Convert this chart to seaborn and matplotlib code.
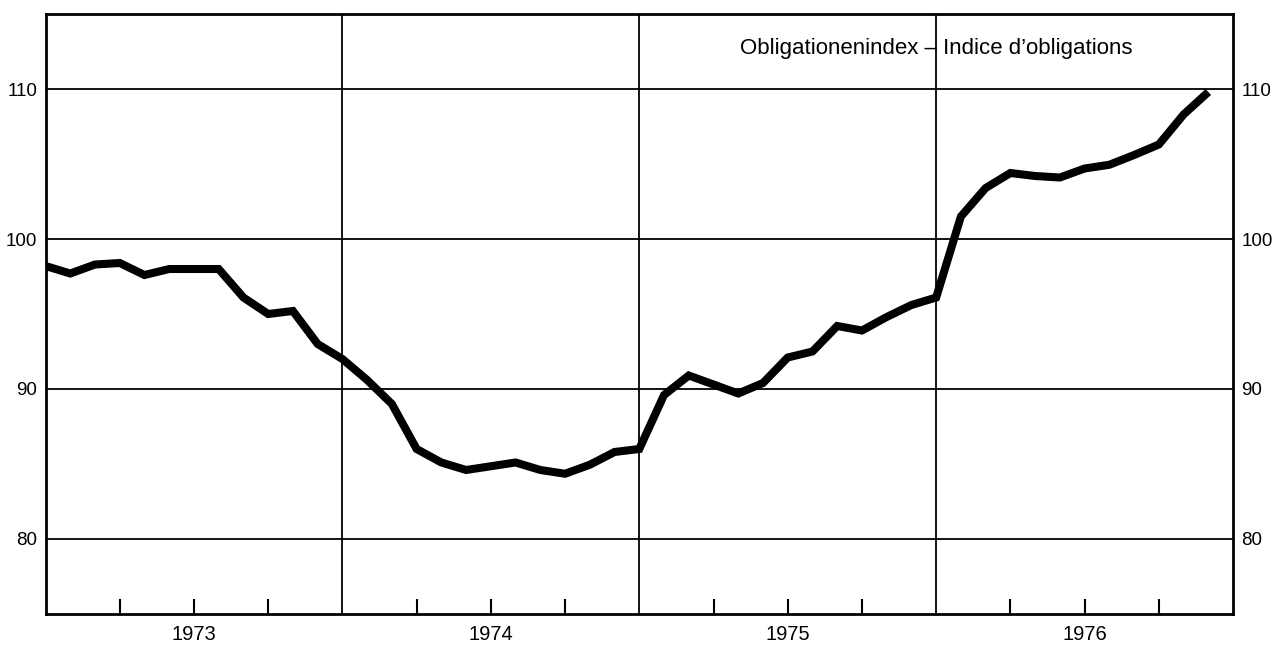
import numpy as np
import pandas as pd
import matplotlib
matplotlib.use("Agg")
import matplotlib.pyplot as plt
import seaborn as sns

# Monthly bond index, Jan 1973 .. Dec 1976
v1973 = [98.2, 97.7, 98.3, 98.4, 97.6, 98.0, 98.0, 98.0, 96.1, 95.0, 95.2, 93.0]
v1974 = [92.0, 90.6, 89.0, 86.0, 85.1, 84.6, 84.85, 85.1, 84.6, 84.35, 84.95, 85.8]
v1975 = [86.0, 89.6, 90.9, 90.3, 89.7, 90.4, 92.1, 92.5, 94.2, 93.9, 94.8, 95.6]
v1976 = [96.1, 101.5, 103.4, 104.4, 104.2, 104.1, 104.7, 104.95, 105.6, 106.3, 108.3, 109.8]
years = ["1973", "1974", "1975", "1976"]
y_ticks = [80, 90, 100, 110]
title_text = "Obligationenindex \u2013 Indice d\u2019obligations"

values = v1973 + v1974 + v1975 + v1976
df = pd.DataFrame({"month": np.arange(len(values)), "index": values})

sns.set_style("white")
plt.rcParams["font.family"] = ["Liberation Sans", "DejaVu Sans"]

fig = plt.figure(figsize=(12.75, 6.52), dpi=100)
ax = fig.add_axes([0.0357, 0.0583, 0.9314, 0.9202])

sns.lineplot(data=df, x="month", y="index", ax=ax, color="black",
             linewidth=5.8, solid_joinstyle="miter", solid_capstyle="butt")

ax.set_xlim(0, 48)
ax.set_ylim(75, 115)

# grid: horizontal at y ticks, vertical at year boundaries
for yv in y_ticks:
    ax.axhline(yv, color="black", linewidth=1.3, zorder=0)
for k in range(1, len(years)):
    ax.axvline(12 * k, color="black", linewidth=1.3, zorder=0)

ax.set_yticks(y_ticks)
ax.set_yticklabels([str(t) for t in y_ticks], fontsize=13.5)
ax.tick_params(axis="y", length=0, pad=6, labelleft=True, labelright=True,
               labelcolor="black")

# quarter ticks inward from the bottom
qticks = [12 * y + q for y in range(len(years)) for q in (3, 6, 9)]
ax.set_xticks(qticks)
ax.set_xticklabels([])
ax.tick_params(axis="x", direction="in", length=11, width=1.5, bottom=True,
               colors="black")

# year labels centred in each year
xtr = ax.get_xaxis_transform()
for i, yr in enumerate(years):
    ax.text(12 * i + 6, -0.035, yr, transform=xtr, ha="center", va="center",
            fontsize=14.5, color="black")

ax.set_xlabel("")
ax.set_ylabel("")
for s in ax.spines.values():
    s.set_visible(True)
    s.set_color("black")
    s.set_linewidth(2.0)

ax.text(36, 0.943, title_text, transform=xtr, ha="center", va="center",
        fontsize=16, color="black")

fig.savefig("out.png", dpi=100)
